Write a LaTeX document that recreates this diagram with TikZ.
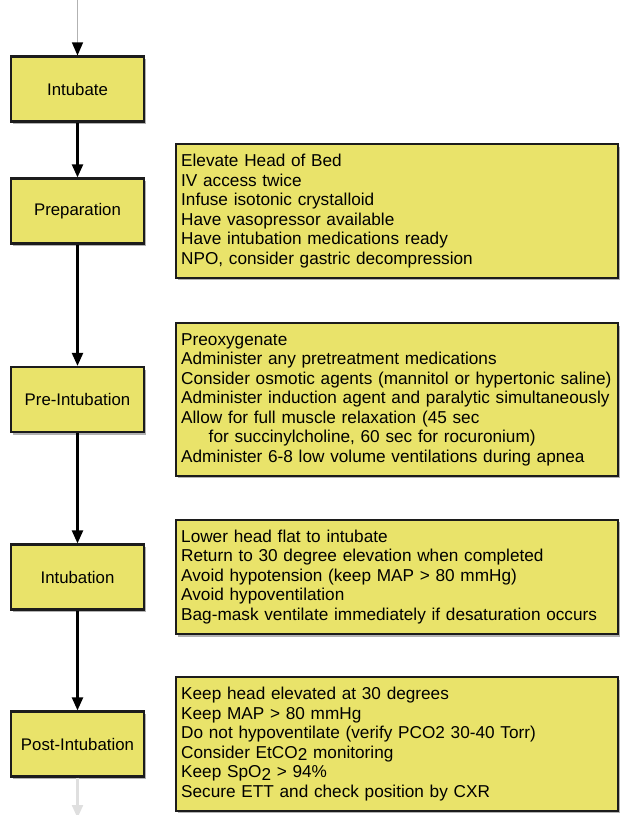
\documentclass[tikz,border=0pt]{standalone}
\usepackage{fontspec}
\setmainfont{Liberation Sans}
\definecolor{boxyellow}{RGB}{233, 227, 106}
\definecolor{edgedark}{RGB}{28, 28, 28}
\usetikzlibrary{arrows.meta, positioning, shadows}

\begin{document}
\begin{tikzpicture}[x=1pt, y=-1pt,
  stage/.style={draw=edgedark, line width=2.2pt, fill=boxyellow, minimum width=133pt, minimum height=65pt, inner sep=0pt,
    font=\fontsize{16.8}{19}\selectfont, drop shadow={shadow xshift=1.5pt, shadow yshift=-2.5pt, fill=black, opacity=0.3}},
  notebox/.style={draw=edgedark, line width=2.2pt, fill=boxyellow, text width=432pt, align=left, inner xsep=5pt, inner ysep=10pt,
    font=\fontsize{17.2}{19.5}\selectfont, drop shadow={shadow xshift=1.5pt, shadow yshift=-2.5pt, fill=black, opacity=0.3}},
  flow/.style={line width=2.2pt, -{Triangle[width=11pt, length=13pt]}}
]
  \useasboundingbox (0,0) rectangle (621,815);

  % Stages down the left side
  \node[stage] (intubate) at (77.5, 89) {Intubate};
  \node[stage] (prep) at (77.5, 211) {Preparation};
  \node[stage] (preint) at (77.5, 399.5) {Pre-Intubation};
  \node[stage] (intub) at (77.5, 577) {Intubation};
  \node[stage] (postint) at (77.5, 744) {Post-Intubation};

  % Free ends of the faded connectors
  \coordinate (top) at (77.5, 0);
  \coordinate (bottom) at (77.5, 818);

  % Notes to the right
  \node[notebox, right=30pt of prep] (prepnote) {
    Elevate Head of Bed\\
    IV access twice\\
    Infuse isotonic crystalloid\\
    Have vasopressor available\\
    Have intubation medications ready\\
    NPO, consider gastric decompression
  };

  \node[notebox, right=30pt of preint] (preintnote) {
    Preoxygenate\\
    Administer any pretreatment medications\\
    Consider osmotic agents (mannitol or hypertonic saline)\\
    Administer induction agent and paralytic simultaneously\\
    Allow for full muscle relaxation (45 sec\\
    \hspace*{1.6em}for succinylcholine, 60 sec for rocuronium)\\
    Administer 6-8 low volume ventilations during apnea
  };

  \node[notebox, right=30pt of intub] (intubnote) {
    Lower head flat to intubate\\
    Return to 30 degree elevation when completed\\
    Avoid hypotension (keep MAP > 80 mmHg)\\
    Avoid hypoventilation\\
    Bag-mask ventilate immediately if desaturation occurs
  };

  \node[notebox, right=30pt of postint] (postnote) {
    Keep head elevated at 30 degrees\\
    Keep MAP > 80 mmHg\\
    Do not hypoventilate (verify PCO2 30-40 Torr)\\
    Consider EtCO\raisebox{-0.3ex}{2} monitoring\\
    Keep SpO\raisebox{-0.3ex}{2} > 94\%\\
    Secure ETT and check position by CXR
  };

  % Connectors
  \draw[flow, gray!60, line width=1.4pt, -{Triangle[width=11pt, length=13pt, color=black]}] (top) -- (intubate);
  \draw[flow] (intubate) -- (prep);
  \draw[flow] (prep) -- (preint);
  \draw[flow] (preint) -- (intub);
  \draw[flow] (intub) -- (postint);
  \draw[flow, gray!25] (postint) -- (bottom);
\end{tikzpicture}
\end{document}
